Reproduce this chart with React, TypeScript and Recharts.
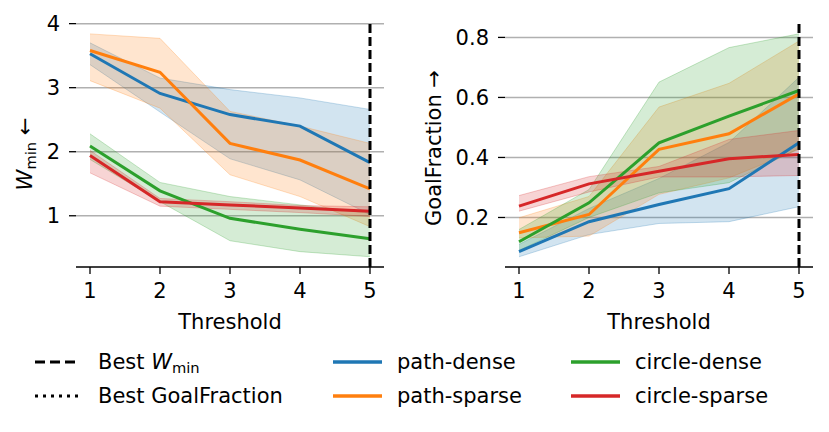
import React from "react";
import { Area, CartesianGrid, ComposedChart, Line, ReferenceLine, XAxis, YAxis } from "recharts";

const thresholds = [1, 2, 3, 4, 5];
const seriesNames = ["path-dense", "path-sparse", "circle-dense", "circle-sparse"];
const seriesColors = ["#1f77b4", "#ff7f0e", "#2ca02c", "#d62728"];

// W_min (left panel)
const pathDenseW = [3.53, 2.91, 2.58, 2.4, 1.83];
const pathDenseWLow = [3.36, 2.62, 1.89, 1.56, 1.02];
const pathDenseWHigh = [3.7, 3.15, 2.97, 2.84, 2.66];
const pathSparseW = [3.58, 3.24, 2.13, 1.87, 1.42];
const pathSparseWLow = [3.11, 2.68, 1.64, 1.3, 0.83];
const pathSparseWHigh = [3.84, 3.77, 2.63, 2.4, 2.13];
const circleDenseW = [2.09, 1.39, 0.96, 0.79, 0.64];
const circleDenseWLow = [1.88, 1.22, 0.61, 0.44, 0.36];
const circleDenseWHigh = [2.28, 1.52, 1.3, 1.17, 1.04];
const circleSparseW = [1.94, 1.22, 1.17, 1.12, 1.07];
const circleSparseWLow = [1.67, 1.15, 1.1, 1.05, 0.99];
const circleSparseWHigh = [2.02, 1.27, 1.22, 1.16, 1.14];

// GoalFraction (right panel)
const pathDenseG = [0.086, 0.186, 0.243, 0.296, 0.449];
const pathDenseGLow = [0.069, 0.143, 0.18, 0.186, 0.236];
const pathDenseGHigh = [0.11, 0.23, 0.33, 0.45, 0.667];
const pathSparseG = [0.149, 0.21, 0.427, 0.479, 0.612];
const pathSparseGLow = [0.132, 0.138, 0.277, 0.332, 0.427];
const pathSparseGHigh = [0.199, 0.27, 0.568, 0.647, 0.788];
const circleDenseG = [0.119, 0.249, 0.449, 0.538, 0.623];
const circleDenseGLow = [0.09, 0.2, 0.282, 0.316, 0.43];
const circleDenseGHigh = [0.16, 0.293, 0.651, 0.766, 0.812];
const circleSparseG = [0.238, 0.312, 0.354, 0.396, 0.41];
const circleSparseGLow = [0.221, 0.285, 0.335, 0.335, 0.34];
const circleSparseGHigh = [0.273, 0.336, 0.37, 0.46, 0.49];

const wTicks = [1, 2, 3, 4];
const gTicks = [0.2, 0.4, 0.6, 0.8];
const bestThreshold = 5;

const FONT = "DejaVu Sans";
const FS = 21;

function buildRows(means: number[][], lows: number[][], highs: number[][]) {
  return thresholds.map((t, i) => {
    const row: Record<string, any> = { t };
    means.forEach((m, s) => {
      row["m" + s] = m[i];
      row["b" + s] = [lows[s][i], highs[s][i]];
    });
    return row;
  });
}

const wRows = buildRows(
  [pathDenseW, pathSparseW, circleDenseW, circleSparseW],
  [pathDenseWLow, pathSparseWLow, circleDenseWLow, circleSparseWLow],
  [pathDenseWHigh, pathSparseWHigh, circleDenseWHigh, circleSparseWHigh]
);
const gRows = buildRows(
  [pathDenseG, pathSparseG, circleDenseG, circleSparseG],
  [pathDenseGLow, pathSparseGLow, circleDenseGLow, circleSparseGLow],
  [pathDenseGHigh, pathSparseGHigh, circleDenseGHigh, circleSparseGHigh]
);

const tickStyle = { fill: "#000", fontSize: FS, fontFamily: FONT };

function Panel({ data, domain, ticks, fmt, yWidth }: any) {
  return (
    <ComposedChart
      width={400}
      height={312}
      data={data}
      margin={{ top: 23, right: 16, bottom: 12, left: 0 }}
    >
      <CartesianGrid vertical={false} syncWithTicks stroke="#b0b0b0" strokeWidth={1.5} />
      <XAxis
        dataKey="t"
        type="number"
        domain={[0.8, 5.2]}
        ticks={thresholds}
        height={33}
        tick={tickStyle}
        tickSize={7}
        tickMargin={9}
        axisLine={{ stroke: "#000", strokeWidth: 1.3 }}
        tickLine={{ stroke: "#000", strokeWidth: 1.3 }}
      />
      <YAxis
        type="number"
        domain={domain}
        ticks={ticks}
        allowDataOverflow
        width={yWidth}
        tick={tickStyle}
        tickFormatter={fmt}
        tickSize={7}
        tickMargin={9}
        axisLine={false}
        tickLine={{ stroke: "#000", strokeWidth: 1.3 }}
      />
      {seriesColors.map((c, s) => (
        <Area
          key={"b" + s}
          dataKey={"b" + s}
          type="linear"
          fill={c}
          fillOpacity={0.2}
          stroke={c}
          strokeOpacity={0.25}
          strokeWidth={1}
          isAnimationActive={false}
          activeDot={false}
        />
      ))}
      {seriesColors.map((c, s) => (
        <Line
          key={"m" + s}
          dataKey={"m" + s}
          type="linear"
          stroke={c}
          strokeWidth={3}
          dot={false}
          activeDot={false}
          isAnimationActive={false}
        />
      ))}
      <ReferenceLine x={bestThreshold} stroke="#000" strokeWidth={3} strokeDasharray="9 4" />
    </ComposedChart>
  );
}

const textBase: React.CSSProperties = {
  position: "absolute",
  fontFamily: FONT,
  fontSize: FS,
  color: "#000",
  whiteSpace: "nowrap",
  lineHeight: 1,
};

function WMin() {
  return (
    <span>
      <span style={{ fontStyle: "italic" }}>W</span>
      <span style={{ fontSize: "0.7em", position: "relative", top: "0.3em" }}>min</span>
    </span>
  );
}

function LegendRow({ x, y, sample, label }: any) {
  return (
    <div style={{ position: "absolute", left: x, top: y - 12, height: 24, display: "flex", alignItems: "center" }}>
      <svg width={50} height={24} style={{ display: "block" }}>
        {sample}
      </svg>
      <span style={{ fontFamily: FONT, fontSize: FS, marginLeft: 14, whiteSpace: "nowrap", lineHeight: 1 }}>
        {label}
      </span>
    </div>
  );
}

export default function App() {
  const rowY = [362, 396];
  const colX = [34, 333, 571];
  return (
    <div style={{ position: "absolute", left: 0, top: 0, width: 829, height: 432, background: "#fff" }}>
      <div style={{ position: "absolute", left: 0, top: 0 }}>
        <Panel data={wRows} domain={[0.2, 4.01]} ticks={wTicks} fmt={(v: number) => String(v)} yWidth={76} />
      </div>
      <div style={{ position: "absolute", left: 429, top: 0 }}>
        <Panel data={gRows} domain={[0.035, 0.848]} ticks={gTicks} fmt={(v: number) => v.toFixed(1)} yWidth={76} />
      </div>

      <div style={{ ...textBase, left: 25, top: 154, transform: "translate(-50%, -50%) rotate(-90deg)" }}>
        <WMin /> ←
      </div>
      <div style={{ ...textBase, left: 434, top: 148, transform: "translate(-50%, -50%) rotate(-90deg)" }}>
        GoalFraction →
      </div>
      <div style={{ ...textBase, left: 230, top: 322, transform: "translate(-50%, -50%)" }}>Threshold</div>
      <div style={{ ...textBase, left: 659, top: 322, transform: "translate(-50%, -50%)" }}>Threshold</div>

      <LegendRow
        x={colX[0]}
        y={rowY[0]}
        label={<span>Best <WMin /></span>}
        sample={<line x1={1} x2={45} y1={12} y2={12} stroke="#000" strokeWidth={3} strokeDasharray="10 5" />}
      />
      <LegendRow
        x={colX[0]}
        y={rowY[1]}
        label="Best GoalFraction"
        sample={<line x1={1} x2={45} y1={12} y2={12} stroke="#000" strokeWidth={3} strokeDasharray="3 5" />}
      />
      {seriesNames.map((n, s) => (
        <LegendRow
          key={n}
          x={colX[1 + Math.floor(s / 2)]}
          y={rowY[s % 2]}
          label={n}
          sample={<line x1={0} x2={49} y1={12} y2={12} stroke={seriesColors[s]} strokeWidth={3.5} />}
        />
      ))}
    </div>
  );
}
